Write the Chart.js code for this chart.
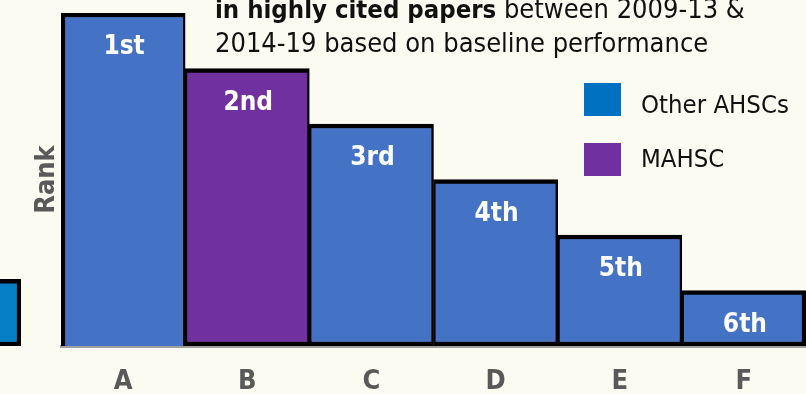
<!DOCTYPE html>
<html><head><meta charset="utf-8">
<script src="https://cdn.jsdelivr.net/npm/chart.js@4"></script>
<style>
html,body{margin:0;padding:0;background:#FBFBF1;overflow:hidden}
#wrap{position:relative;width:806px;height:394px;overflow:hidden;background:#FBFBF1}
#main{position:absolute;left:0;top:0}
#frag{position:absolute;left:-100px;top:0}
</style></head><body>
<div id="wrap">
<canvas id="frag" width="121" height="394"></canvas>
<canvas id="main" width="806" height="394"></canvas>
</div>
<script>
// ---- data ----
const categories = ['A', 'B', 'C', 'D', 'E', 'F'];
const rankValues = [6, 5, 4, 3, 2, 1];
const rankLabels = ['1st', '2nd', '3rd', '4th', '5th', '6th'];
const highlightCategory = 'B';
const legendLabels = ['Other AHSCs', 'MAHSC'];
const titleBold = 'in highly cited papers';
const titleRest = ' between 2009-13 &';
const titleLine2 = '2014-19 based on baseline performance';
const yAxisTitle = 'Rank';
const fragmentCategories = [''];
const fragmentValues = [1.2];

const FONT = '"DejaVu Sans Condensed", "DejaVu Sans", sans-serif';
const BLUE = '#4472C4', PURPLE = '#7030A0', LEGEND_BLUE = '#0070C0';

const annot = {
  id: 'annot',
  afterDatasetsDraw(chart) {
    const ctx = chart.ctx;
    const meta = chart.getDatasetMeta(0);
    ctx.save();
    // bar labels
    ctx.fillStyle = '#ffffff';
    ctx.font = 'bold 26px ' + FONT;
    ctx.textAlign = 'center';
    ctx.textBaseline = 'alphabetic';
    meta.data.forEach((bar, i) => ctx.fillText(rankLabels[i], bar.x + 1, bar.y + 41));
    // title
    ctx.textAlign = 'left';
    ctx.fillStyle = '#111111';
    ctx.font = 'bold 25.5px ' + FONT;
    ctx.fillText(titleBold, 215, 18);
    const w = ctx.measureText(titleBold).width;
    ctx.font = '27px ' + FONT;
    ctx.fillText(titleRest, 215 + w, 18);
    ctx.fillText(titleLine2, 215, 52);
    // legend
    const cols = [LEGEND_BLUE, PURPLE];
    ctx.font = '25.5px ' + FONT;
    legendLabels.forEach((t, i) => {
      ctx.fillStyle = cols[i];
      ctx.fillRect(584, 83 + i * 60, 37, 33);
      ctx.fillStyle = '#111111';
      ctx.fillText(t, 641, 113 + i * 54);
    });
    ctx.restore();
  }
};

new Chart(document.getElementById('main'), {
  type: 'bar',
  data: {
    labels: categories,
    datasets: [{
      data: rankValues,
      backgroundColor: ctx => categories[ctx.dataIndex] === highlightCategory ? PURPLE : BLUE,
      borderColor: '#000000',
      borderSkipped: false,
      borderWidth: ctx => ({
        top: 4.5,
        bottom: ctx.dataIndex === 0 ? 0 : 4.5,
        left: ctx.dataIndex === 0 ? 4.5 : 2.4,
        right: ctx.dataIndex === categories.length - 1 ? 4.5 : 2.4
      }),
      categoryPercentage: 1,
      barPercentage: 1
    }]
  },
  options: {
    responsive: false,
    animation: false,
    layout: { padding: { top: 13, left: 0, right: 0, bottom: -23 } },
    plugins: { legend: { display: false }, tooltip: { enabled: false } },
    scales: {
      x: {
        grid: { display: false, drawTicks: false },
        border: { display: true, color: '#a0a0a0', width: 3 },
        ticks: { color: '#595959', padding: 22, font: { family: FONT, size: 27, weight: 'bold', lineHeight: 1 } }
      },
      y: {
        min: 0, max: 6,
        grid: { display: false, drawTicks: false },
        border: { display: false },
        ticks: { display: false },
        title: {
          display: true, text: yAxisTitle, color: '#595959',
          font: { family: FONT, size: 27, weight: 'bold', lineHeight: 1 },
          padding: { top: 33, bottom: 1 }
        }
      }
    }
  },
  plugins: [annot]
});

new Chart(document.getElementById('frag'), {
  type: 'bar',
  data: {
    labels: fragmentCategories,
    datasets: [{
      data: fragmentValues,
      backgroundColor: '#0580C8',
      borderColor: '#000000',
      borderWidth: 4.5,
      borderSkipped: false,
      categoryPercentage: 1,
      barPercentage: 1
    }]
  },
  options: {
    responsive: false,
    animation: false,
    layout: { padding: { top: 13, left: 0, right: 0, bottom: 48 } },
    plugins: { legend: { display: false }, tooltip: { enabled: false } },
    scales: { x: { display: false }, y: { display: false, min: 0, max: 6 } }
  }
});
</script>
</body></html>
